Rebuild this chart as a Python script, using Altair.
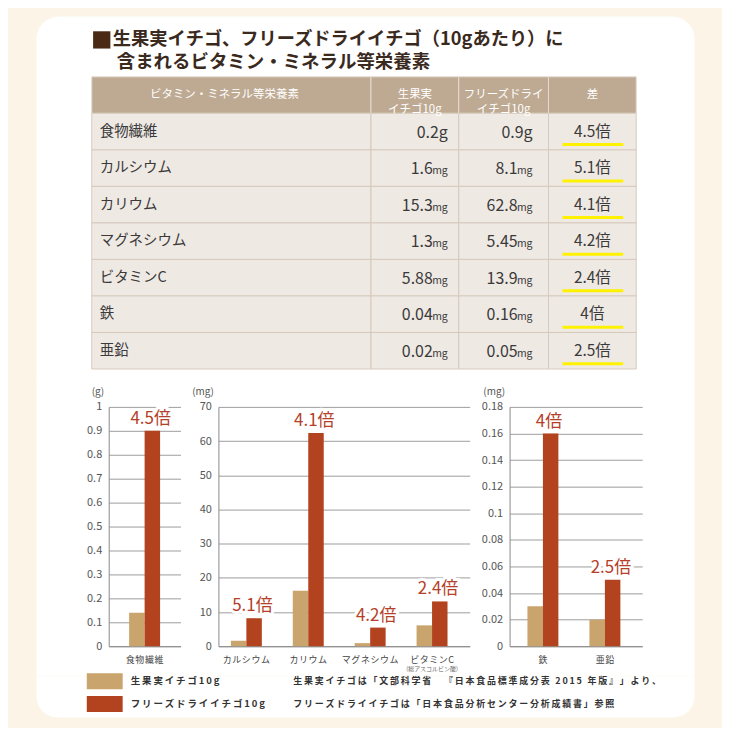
import altair as alt
import pandas as pd

FONT = "Noto Sans CJK JP"

# ---------------- data ----------------
title_line1 = "生果実イチゴ、フリーズドライイチゴ（10gあたり）に"
title_line2 = "含まれるビタミン・ミネラル等栄養素"

header_cols = ["ビタミン・ミネラル等栄養素", "生果実\nイチゴ10g", "フリーズドライ\nイチゴ10g", "差"]
nutrients = ["食物繊維", "カルシウム", "カリウム", "マグネシウム", "ビタミンC", "鉄", "亜鉛"]
table_fresh = ["0.2", "1.6", "15.3", "1.3", "5.88", "0.04", "0.02"]
table_dried = ["0.9", "8.1", "62.8", "5.45", "13.9", "0.16", "0.05"]
units = ["g", "mg", "mg", "mg", "mg", "mg", "mg"]
ratios = ["4.5倍", "5.1倍", "4.1倍", "4.2倍", "2.4倍", "4倍", "2.5倍"]

series = ["生果実イチゴ10g", "フリーズドライイチゴ10g"]
bar_fresh = [0.14, 1.6, 16.2, 0.9, 6.1, 0.03, 0.02]
bar_dried = [0.9, 8.2, 62.4, 5.45, 13.1, 0.16, 0.05]

groups = [["食物繊維"], ["カルシウム", "カリウム", "マグネシウム", "ビタミンC"], ["鉄", "亜鉛"]]
group_units = ["(g)", "(mg)", "(mg)"]
group_ticks = [
    [0, 0.1, 0.2, 0.3, 0.4, 0.5, 0.6, 0.7, 0.8, 0.9, 1],
    [0, 10, 20, 30, 40, 50, 60, 70],
    [0, 0.02, 0.04, 0.06, 0.08, 0.1, 0.12, 0.14, 0.16, 0.18],
]
vitc_note = "(総アスコルビン酸)"

notes = [
    "生果実イチゴは「文部科学省　『日本食品標準成分表 2015 年版』」より、",
    "フリーズドライイチゴは「日本食品分析センター分析成績書」参照",
]

# ---------------- styles ----------------
C_FRESH = "#C9A46C"
C_DRIED = "#B3431F"
C_LABEL = "#B5402A"
C_HEAD = "#BEAA93"
C_ROW = "#EFE9E4"
C_TEXT = "#3a3a3a"
SPACED = "join(split(datum.label, ''), '\u200a')"

rows = ["_h"] + nutrients
TABLE_H = 293
CH = 240
CARD_L, CARD_R = -55, 604
yrow = alt.Y("row:N", sort=rows, scale=alt.Scale(domain=rows, paddingInner=0, paddingOuter=0), axis=None)
one = pd.DataFrame({"k": [0]})


def card_piece(top, bottom, **corners):
    return alt.Chart(one).mark_rect(fill="white", stroke="white", strokeWidth=1, **corners).encode(
        x=alt.value(CARD_L), x2=alt.value(CARD_R), y=alt.value(top), y2=alt.value(bottom))


def bg_rects(df, width):
    return alt.Chart(df).mark_rect(strokeWidth=1).encode(
        x=alt.value(0), x2=alt.value(width), y=yrow,
        fill=alt.condition(alt.datum.row == "_h", alt.value(C_HEAD), alt.value(C_ROW)),
        stroke=alt.condition(alt.datum.row == "_h", alt.value("#E4DAD0"), alt.value("#D6CABD")),
    )


def header_text(df, width, dx=0):
    return alt.Chart(df).transform_filter(alt.datum.row == "_h").mark_text(
        color="white", fontSize=11.5, lineBreak="\n", lineHeight=15, align="center", baseline="middle", dx=dx
    ).encode(x=alt.value(width / 2), y=yrow, text="text:N")


# ---------------- panel A: title + table ----------------
w1, w2, w3, w4 = 280, 88, 90, 88
df1 = pd.DataFrame({"row": rows, "text": [header_cols[0]] + nutrients})
square = alt.Chart(one).mark_square(size=300, color="#4B2A14", opacity=1).encode(
    x=alt.value(10), y=alt.value(-37))
t1 = alt.Chart(one).mark_text(text=title_line1, align="left", baseline="middle", fontSize=18.3,
                              fontWeight="bold", color="#3a2a1e").encode(x=alt.value(21), y=alt.value(-37))
t2 = alt.Chart(one).mark_text(text=title_line2, align="left", baseline="middle", fontSize=18.5,
                              fontWeight="bold", color="#3a2a1e").encode(x=alt.value(25), y=alt.value(-15))
names = alt.Chart(df1).transform_filter(alt.datum.row != "_h").mark_text(
    align="left", baseline="middle", fontSize=14.5, color=C_TEXT
).encode(x=alt.value(8), y=yrow, text="text:N")
col1 = alt.layer(
    card_piece(-60, 307, cornerRadiusTopLeft=22, cornerRadiusTopRight=22),
    square, t1, t2, bg_rects(df1, w1), header_text(df1, w1, dx=-7), names,
).properties(width=w1, height=TABLE_H)


def value_col(vals, header, width, xr):
    df = pd.DataFrame({"row": rows, "text": [header] + [""] * 7,
                       "num": [""] + vals, "unit": [""] + units})
    g_l = alt.Chart(df).transform_filter(alt.datum.unit == "g").transform_calculate(
        nu="datum.num + 'g'").mark_text(align="right", baseline="alphabetic", dy=6, fontSize=16,
                                        color=C_TEXT).encode(x=alt.value(xr), y=yrow, text="nu:N")
    n_l = alt.Chart(df).transform_filter(alt.datum.unit == "mg").mark_text(
        align="right", baseline="alphabetic", dy=6, dx=-15, fontSize=16, color=C_TEXT
    ).encode(x=alt.value(xr), y=yrow, text="num:N")
    u_l = alt.Chart(df).transform_filter(alt.datum.unit == "mg").mark_text(
        align="right", baseline="alphabetic", dy=6, fontSize=10.5, color=C_TEXT
    ).encode(x=alt.value(xr), y=yrow, text="unit:N")
    return alt.layer(bg_rects(df, width), header_text(df, width), g_l, n_l, u_l).properties(
        width=width, height=TABLE_H)


col2 = value_col(table_fresh, header_cols[1], w2, 77)
col3 = value_col(table_dried, header_cols[2], w3, 74)

df4 = pd.DataFrame({"row": rows, "text": [header_cols[3]] + ratios})
underline = alt.Chart(df4).transform_filter(alt.datum.row != "_h").mark_rule(
    color="#FFF200", strokeWidth=3, yOffset=13).encode(x=alt.value(14), x2=alt.value(75), y=yrow)
rtext = alt.Chart(df4).transform_filter(alt.datum.row != "_h").mark_text(
    align="center", baseline="middle", fontSize=15.5, color=C_TEXT).encode(x=alt.value(w4 / 2), y=yrow, text="text:N")
col4 = alt.layer(bg_rects(df4, w4), header_text(df4, w4), underline, rtext).properties(width=w4, height=TABLE_H)

panel_a = alt.hconcat(col1, col2, col3, col4, spacing=0, bounds="flush")

# ---------------- panel B: bar charts ----------------
color_scale = alt.Scale(domain=series, range=[C_FRESH, C_DRIED])
bar_params = [(72, 0.33, 0.5), (252, 0.28, 0.36), (133, 0.32, 0.45)]


def bar_chart(k):
    cats = groups[k]
    width, po, al = bar_params[k]
    recs = []
    for c in cats:
        i = nutrients.index(c)
        recs.append({"cat": c, "series": series[0], "value": bar_fresh[i]})
        recs.append({"cat": c, "series": series[1], "value": bar_dried[i]})
    df = pd.DataFrame(recs)
    ldf = pd.DataFrame({"cat": cats, "ratio": [ratios[nutrients.index(c)] for c in cats],
                        "value": [bar_dried[nutrients.index(c)] for c in cats]})
    ticks = group_ticks[k]
    x = alt.X("cat:N", sort=cats, scale=alt.Scale(domain=cats, paddingInner=0.5, paddingOuter=po, align=al),
              axis=alt.Axis(title=None, labelAngle=0, labelFontSize=9, labelColor="#444", labelPadding=9,
                            ticks=False, domainColor="#8a8a8a", grid=False, labelExpr=SPACED, labelFont=FONT))
    y = alt.Y("value:Q", scale=alt.Scale(domain=[ticks[0], ticks[-1]], nice=False, zero=True),
              axis=alt.Axis(values=ticks, format="~r", title=group_units[k], titleAngle=0, titleAlign="right",
                            titleBaseline="middle", titleX=-5, titleY=-15, titleFontSize=10,
                            titleFontWeight="normal", titleColor="#555", labelFontSize=11, labelColor="#555",
                            labelPadding=7, ticks=False, domainColor="#8a8a8a", gridColor="#9d9d9d",
                            grid=True, labelFont=FONT, titleFont=FONT))
    bars = alt.Chart(df).mark_bar().encode(
        x=x, y=y,
        xOffset=alt.XOffset("series:N", sort=series, scale=alt.Scale(domain=series, paddingInner=0, paddingOuter=0)),
        color=alt.Color("series:N", scale=color_scale, legend=None),
    )
    halo = alt.Chart(ldf).mark_text(baseline="bottom", dy=-3, dx=6, fontSize=17, fill="white",
                                    stroke="white", strokeWidth=6).encode(x=x, y=y, text="ratio:N")
    lab = alt.Chart(ldf).mark_text(baseline="bottom", dy=-3, dx=6, fontSize=17, color=C_LABEL).encode(
        x=x, y=y, text="ratio:N")
    layers = [bars, halo, lab]
    if "ビタミンC" in cats:
        sub = alt.Chart(pd.DataFrame({"cat": ["ビタミンC"], "t": [vitc_note]})).mark_text(
            fontSize=6, color="#666", baseline="middle").encode(x=x, y=alt.value(CH + 23), text="t:N")
        layers.append(sub)
    return alt.layer(*layers).properties(width=width, height=CH)


def blank(w, h, extra=None):
    b = alt.Chart(one).mark_point(opacity=0).encode(x=alt.value(0), y=alt.value(0))
    if extra is not None:
        b = alt.layer(extra, b)
    return b.properties(width=w, height=h)


panel_b = alt.hconcat(
    blank(17, CH, card_piece(-25, 269)), bar_chart(0), blank(38, CH), bar_chart(1), blank(40, CH), bar_chart(2),
    spacing=0, bounds="flush",
).resolve_scale(x="independent", y="independent")

# ---------------- panel C: legend + notes ----------------
leg_df = pd.DataFrame({"series": series, "note": notes})
yleg = alt.Y("series:N", sort=series, scale=alt.Scale(domain=series, paddingInner=0.3, paddingOuter=0.05), axis=None)
sw = alt.Chart(leg_df).mark_rect(yOffset=-4, y2Offset=-4).encode(
    x=alt.value(-5), x2=alt.value(31), y=yleg, color=alt.Color("series:N", scale=color_scale, legend=None))
leg_lab = alt.Chart(leg_df).transform_calculate(
    lab="join(split(datum.series, ''), '\u2009')").mark_text(
    align="left", baseline="middle", yOffset=-4, fontSize=9.5, fontWeight="bold", color="#333").encode(
    x=alt.value(39), y=yleg, text="lab:N")
note_lab = alt.Chart(leg_df).transform_calculate(
    nt="join(split(datum.note, ''), '\u2009')").mark_text(
    align="left", baseline="middle", yOffset=-4, fontSize=9, fontWeight="bold", color="#333").encode(
    x=alt.value(202), y=yleg, text="nt:N")
panel_c = alt.layer(
    card_piece(0, 41, cornerRadiusBottomLeft=22, cornerRadiusBottomRight=22),
    sw, leg_lab, note_lab,
).properties(width=546, height=41)

chart = alt.vconcat(panel_a, panel_b, panel_c, spacing=-3).resolve_scale(
    x="independent", y="independent"
).properties(
    background="#FBF4E7",
    padding={"left": 28, "top": 7, "right": 27, "bottom": 9},
).configure(font=FONT).configure_view(stroke=None)

chart.save("out.html", embed_options={"renderer": "svg", "actions": False})
